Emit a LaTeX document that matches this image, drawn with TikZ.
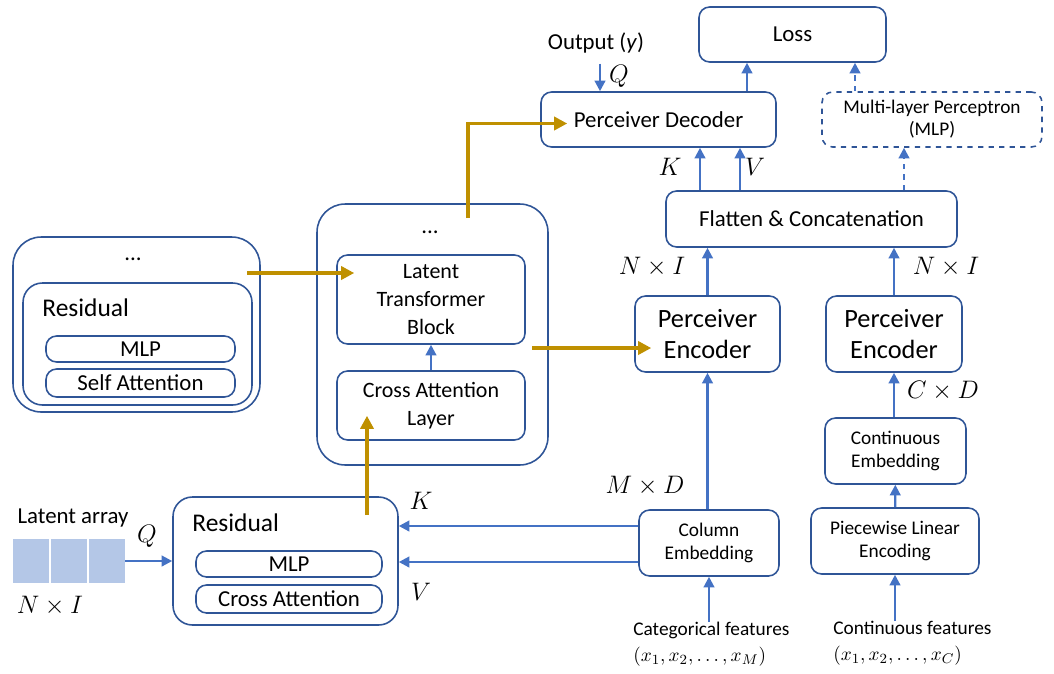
\documentclass[tikz,border=0pt]{standalone}
\usepackage{amsmath}
\usepackage{fontspec}
\setmainfont{Carlito}
\usetikzlibrary{arrows.meta,calc}
\definecolor{boxblue}{HTML}{2F5597}
\definecolor{arrblue}{HTML}{4472C4}
\definecolor{gold}{HTML}{BF9000}
\definecolor{cellblue}{HTML}{B4C7E7}

\begin{document}
\begin{tikzpicture}[x=0.02cm, y=-0.02cm,
        box/.style={draw=boxblue, line width=0.9pt, rounded corners=6pt, align=center, inner sep=2pt, font=\fontsize{13}{16}\selectfont},
        bigbox/.style={draw=boxblue, line width=0.9pt, rounded corners=16pt},
        midbox/.style={draw=boxblue, line width=0.9pt, rounded corners=11pt},
        lbl/.style={inner sep=0pt, font=\fontsize{13}{16}\selectfont},
        mlbl/.style={inner sep=0pt, font=\fontsize{15.5}{19}\selectfont},
        barrow/.style={draw=arrblue, line width=1.3pt, -{Triangle[length=6pt,width=6pt]}},
        garrow/.style={draw=gold, line width=2pt, -{Triangle[length=7.5pt,width=7.5pt]}},
        cell/.style={fill=cellblue, minimum width=0.72cm, minimum height=0.88cm, inner sep=0pt}]
        \useasboundingbox (0,0) rectangle (1054,673);

        % left latent transformer stack
        \node[bigbox, minimum width=4.94cm, minimum height=3.5cm] (outerL) at (136.5,324.5) {};
        \node[midbox, minimum width=4.58cm, minimum height=2.44cm] (resL) at (137.5,344) {};
        \node[lbl] (dotsL) at (133,259) {...};
        \node[lbl, anchor=west, font=\fontsize{14.5}{17}\selectfont] (resLtxt) at (42,308) {Residual};
        \node[box, minimum width=3.78cm, minimum height=0.52cm, inner sep=0pt] (mlpL) at (140.5,349) {MLP};
        \node[box, minimum width=3.78cm, minimum height=0.56cm, inner sep=0pt] (selfatt) at (140.5,383) {Self Attention};

        % middle stack
        \node[bigbox, minimum width=4.62cm, minimum height=5.22cm] (outerM) at (432.5,334.5) {};
        \node[lbl] (dotsM) at (430,232) {...};
        \node[box, minimum width=3.76cm, minimum height=1.78cm, font=\fontsize{12.5}{16}\selectfont] (ltb) at (431,299.5) {Latent\\Transformer\\Block};
        \node[box, minimum width=3.76cm, minimum height=1.38cm, font=\fontsize{12.5}{16}\selectfont] (cal) at (431,405.5) {Cross Attention\\Layer};
        \draw[barrow] (cal) -- (ltb);

        % cross attention residual and latent array
        \node[midbox, minimum width=4.5cm, minimum height=2.56cm] (resB) at (285.5,561) {};
        \node[lbl, anchor=west, font=\fontsize{14.5}{17}\selectfont] (resBtxt) at (192,523) {Residual};
        \node[box, minimum width=3.72cm, minimum height=0.52cm, inner sep=0pt] (mlpB) at (289,564) {MLP};
        \node[box, minimum width=3.72cm, minimum height=0.56cm, inner sep=0pt] (crossatt) at (289,599) {Cross Attention};
        \node[lbl] (latarr) at (73,518) {Latent array};
        \foreach \i/\cx in {1/31,2/69,3/107}
                \node[cell] (cell\i) at (\cx,561) {};
        \node[mlbl] (nib) at (50,606) {$N\times I$};
        \node[mlbl] (qb) at (147,536) {$Q$};
        \draw[barrow] (cell3.east) -- (resB.west);

        % categorical branch
        \node[box, minimum width=2.8cm, minimum height=1.32cm, font=\fontsize{11}{13}\selectfont] (colemb) at (709,543) {Column\\Embedding};
        \node[box, minimum width=2.9cm, minimum height=1.52cm, font=\fontsize{15}{18}\selectfont] (pe1) at (707.5,334) {Perceiver\\Encoder};
        \node[lbl, anchor=north west, align=left, font=\fontsize{11}{14.5}\selectfont] (catf) at (633,622) {Categorical features\\$(x_1, x_2, \dots, x_M)$};
        \draw[barrow] (catf.north -| colemb.south) -- (colemb.south);
        \draw[barrow] (colemb.north -| pe1.south) -- (pe1.south);
        \node[mlbl] (md) at (645,486) {$M\times D$};
        \coordinate (kin) at ([yshift=0.34cm]colemb.west);
        \coordinate (vin) at ([yshift=-0.38cm]colemb.west);
        \draw[barrow] (kin) -- (resB.east |- kin);
        \draw[barrow] (vin) -- (resB.east |- vin);
        \node[mlbl] (kb) at (421,501) {$K$};
        \node[mlbl] (vb) at (421,592) {$V$};

        % continuous branch
        \node[box, minimum width=3.36cm, minimum height=1.32cm, font=\fontsize{11}{13}\selectfont] (ple) at (895,541) {Piecewise Linear\\Encoding};
        \node[box, minimum width=2.82cm, minimum height=1.32cm, font=\fontsize{11}{13}\selectfont] (cemb) at (895.5,451) {Continuous\\Embedding};
        \node[box, minimum width=2.72cm, minimum height=1.52cm, font=\fontsize{15}{18}\selectfont] (pe2) at (894,334) {Perceiver\\Encoder};
        \node[lbl, anchor=north west, align=left, font=\fontsize{11}{14.5}\selectfont] (contf) at (833,621) {Continuous features\\$(x_1, x_2, \dots, x_C)$};
        \draw[barrow] (contf.north -| ple.south) -- (ple.south);
        \draw[barrow] (ple) -- (cemb);
        \draw[barrow] (cemb.north -| pe2.south) -- (pe2.south);
        \node[mlbl] (cd) at (943,391) {$C\times D$};

        % flatten, decoder, loss
        \node[box, minimum width=5.82cm, minimum height=1.12cm] (flat) at (811.5,219) {Flatten \& Concatenation};
        \draw[barrow] (pe1.north) -- (flat.south -| pe1.north);
        \draw[barrow] (pe2.north) -- (flat.south -| pe2.north);
        \node[mlbl] (ni1) at (652,267) {$N\times I$};
        \node[mlbl] (ni2) at (946,267) {$N\times I$};
        \node[box, minimum width=4.7cm, minimum height=1.1cm] (dec) at (658.5,119.5) {Perceiver Decoder};
        \node[box, minimum width=3.74cm, minimum height=1.1cm] (loss) at (792.5,34.5) {Loss};
        \node[box, dashed, minimum width=4.4cm, minimum height=1.1cm, font=\fontsize{11}{12.5}\selectfont] (mlp) at (932,119.5) {Multi-layer Perceptron\\(MLP)};
        \coordinate (kx) at (700,0);
        \coordinate (vx) at (740,0);
        \coordinate (lx) at (747,0);
        \coordinate (mx) at (855,0);
        \coordinate (fx) at (904,0);
        \draw[barrow] (flat.north -| kx) -- (dec.south -| kx);
        \draw[barrow] (flat.north -| vx) -- (dec.south -| vx);
        \node[mlbl] (kt) at (670,167) {$K$};
        \node[mlbl] (vt) at (755,167) {$V$};
        \draw[barrow] (dec.north -| lx) -- (loss.south -| lx);
        \draw[barrow, dashed] (mlp.north -| mx) -- (loss.south -| mx);
        \draw[barrow, dashed] (flat.north -| fx) -- (mlp.south -| fx);
        \node[lbl] (out) at (596,43) {Output (\textit{y})};
        \node[mlbl] (qt) at (619,76) {$Q$};
        \draw[barrow] ([yshift=-0.2cm]out.south -| 600,0) -- (dec.north -| 600,0);

        % gold data flow
        \coordinate (g1) at (247,273);
        \coordinate (g2) at (532,348);
        \coordinate (g3) at (367,515);
        \coordinate (g4) at (468,218);
        \draw[garrow] (g1) -- ($(ltb.west |- g1)+(18,0)$);
        \draw[garrow] (g2) -- ($(pe1.west |- g2)+(17,0)$);
        \draw[garrow] (g3) -- ($(cal.south -| g3)+(0,-25)$);
        \draw[garrow] (g4) |- ($(dec.west)+(27,4)$);
\end{tikzpicture}
\end{document}
